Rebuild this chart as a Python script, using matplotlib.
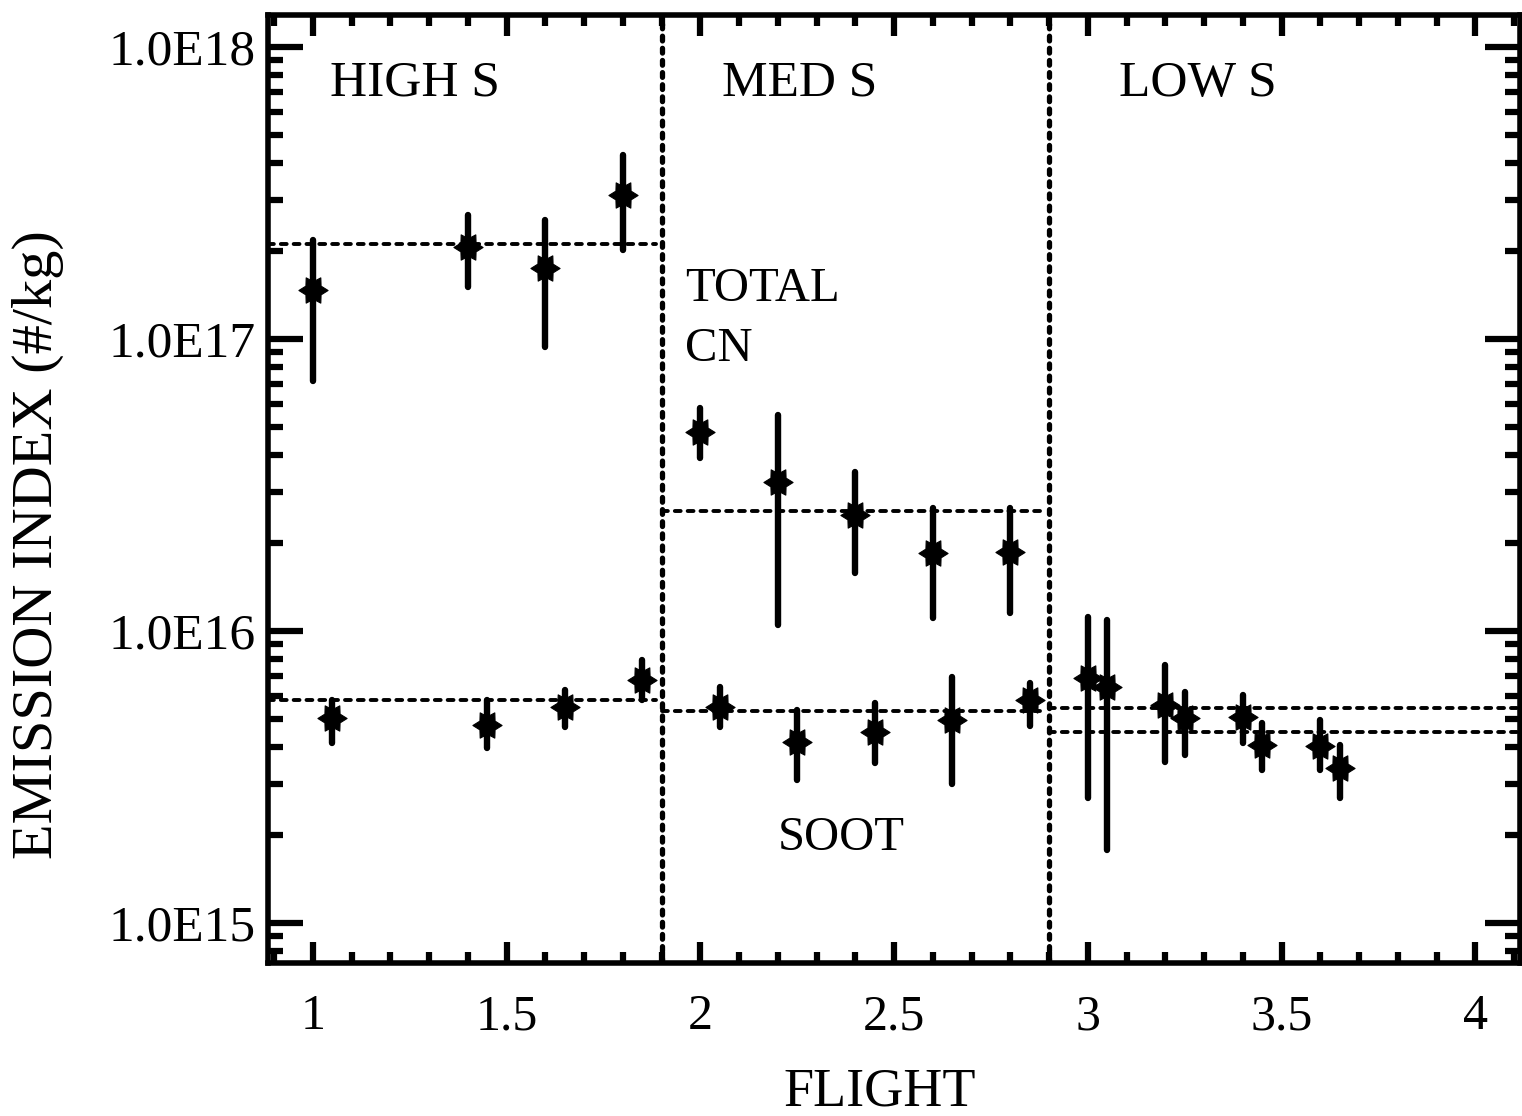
import matplotlib
matplotlib.use("Agg")
import matplotlib.pyplot as plt
from matplotlib.ticker import FixedLocator, LogLocator, NullFormatter, FuncFormatter
from matplotlib.path import Path
import numpy as np

plt.rcParams['font.family'] = ['Liberation Serif', 'DejaVu Serif']

# ---- data ----
cn_flight = [1.0, 1.4, 1.6, 1.8, 2.0, 2.2, 2.4, 2.6, 2.8, 3.0, 3.2, 3.4, 3.6]
cn_value = [1.47e17, 2.07e17, 1.75e17, 3.11e17, 4.8e16, 3.24e16, 2.49e16, 1.85e16, 1.87e16,
            6.9e15, 5.58e15, 5.08e15, 4.04e15]
cn_upper = [2.18e17, 2.66e17, 2.56e17, 4.27e17, 5.8e16, 5.5e16, 3.5e16, 2.64e16, 2.64e16,
            1.12e16, 7.66e15, 6.04e15, 4.95e15]
cn_lower = [7.2e16, 1.51e17, 9.4e16, 2.02e17, 3.9e16, 1.05e16, 1.58e16, 1.11e16, 1.15e16,
            2.68e15, 3.56e15, 4.13e15, 3.34e15]

soot_flight = [1.05, 1.45, 1.65, 1.85, 2.05, 2.25, 2.45, 2.65, 2.85, 3.05, 3.25, 3.45, 3.65]
soot_value = [5.04e15, 4.76e15, 5.49e15, 6.79e15, 5.50e15, 4.17e15, 4.51e15, 4.95e15, 5.80e15,
              6.43e15, 5.04e15, 4.07e15, 3.40e15]
soot_upper = [5.8e15, 5.8e15, 6.28e15, 7.96e15, 6.43e15, 5.36e15, 5.66e15, 6.95e15, 6.63e15,
              1.09e16, 6.18e15, 4.85e15, 4.07e15]
soot_lower = [4.13e15, 3.97e15, 4.69e15, 5.8e15, 4.69e15, 3.09e15, 3.53e15, 2.99e15, 4.73e15,
              1.78e15, 3.76e15, 3.34e15, 2.68e15]

group_names = ["HIGH S", "MED S", "LOW S"]
group_label_x = [1.044, 2.055, 3.081]
group_start = [0.884, 1.9, 2.9]
group_end = [1.885, 2.893, 4.12]
cn_mean = [2.11e17, 2.58e16, 5.44e15]
soot_mean = [5.8e15, 5.32e15, 4.51e15]
dividers = [1.9, 2.9]

x_ticks = [1, 1.5, 2, 2.5, 3, 3.5, 4]
y_ticks = [1e15, 1e16, 1e17, 1e18]

# ---- hexagram marker with points left/right ----
ang = np.deg2rad(np.arange(0, 360, 30))
rad = np.where(np.arange(12) % 2 == 0, 1.0, 0.6)
verts = np.column_stack([rad * np.cos(ang), rad * np.sin(ang)])
verts = np.vstack([verts, verts[:1]])
codes = [Path.MOVETO] + [Path.LINETO] * 11 + [Path.CLOSEPOLY]
star = Path(verts, codes)

# ---- figure ----
fig = plt.figure(figsize=(15.22, 11.16), dpi=100)
ax = fig.add_axes([268/1522, 1 - 963/1116, (1520 - 268)/1522, (963 - 15)/1116])
ax.set_yscale('log')
ax.set_xlim(0.884, 4.115)
ax.set_ylim(10**14.863, 10**18.11)


def draw_series(xs, vals, lo, hi):
    ax.vlines(xs, lo, hi, colors='black', linewidth=4.6, capstyle='round', zorder=3)
    ax.plot(xs, vals, linestyle='none', marker=star, markersize=21, color='black',
            markeredgewidth=0.8, zorder=4)

draw_series(cn_flight, cn_value, cn_lower, cn_upper)
draw_series(soot_flight, soot_value, soot_lower, soot_upper)

for s, e, m in zip(group_start, group_end, cn_mean):
    ax.plot([s, e], [m, m], color='black', linewidth=2.8, linestyle=(0, (1.5, 1.8)),
            dash_capstyle='round', zorder=2)
for s, e, m in zip(group_start, group_end, soot_mean):
    ax.plot([s, e], [m, m], color='black', linewidth=2.8, linestyle=(0, (1.5, 1.8)),
            dash_capstyle='round', zorder=2)

for d in dividers:
    ax.axvline(d, color='black', linewidth=3.8, linestyle=(0, (0.9, 1.4)),
               dash_capstyle='round', zorder=2)

# text labels
name_y = 10**17.875
for nm, gx in zip(group_names, group_label_x):
    ax.text(gx, name_y, nm, fontsize=37, va='center', ha='left')
ax.text(1.96, 10**17.17, "TOTAL", fontsize=35, va='center', ha='left')
ax.text(1.96, 10**16.965, "CN", fontsize=35, va='center', ha='left')
ax.text(2.2, 10**15.29, "SOOT", fontsize=35, va='center', ha='left')

# axes styling
for sp in ax.spines.values():
    sp.set_linewidth(4)
ax.xaxis.set_major_locator(FixedLocator(x_ticks))
ax.xaxis.set_minor_locator(FixedLocator(np.arange(0.9, 4.15, 0.1)))
ax.yaxis.set_major_locator(FixedLocator(y_ticks))
ax.yaxis.set_minor_locator(LogLocator(base=10, subs=np.arange(2, 10)))
ax.yaxis.set_minor_formatter(NullFormatter())
ax.xaxis.set_major_formatter(FuncFormatter(lambda v, p: f"{v:g}"))
ax.yaxis.set_major_formatter(FuncFormatter(lambda v, p: "1.0E%d" % int(round(np.log10(v)))))

ax.tick_params(axis='x', which='major', direction='in', length=15, width=4.5,
               top=True, bottom=True, labelsize=36, pad=22)
ax.tick_params(axis='x', which='minor', direction='in', length=8, width=4.5,
               top=True, bottom=True)
ax.tick_params(axis='y', which='major', direction='in', length=25, width=4.5,
               left=True, right=True, labelsize=37, pad=9)
ax.tick_params(axis='y', which='minor', direction='in', length=11, width=4.5,
               left=True, right=True)

ax.set_xlabel("FLIGHT", fontsize=39)
ax.xaxis.set_label_coords((880 - 268) / 1252, -(1106 - 963) / 948)
ax.xaxis.label.set_verticalalignment('baseline')
ax.set_ylabel("EMISSION INDEX (#/kg)", fontsize=42)
ax.yaxis.set_label_coords(-(268 - 64) / 1252, (963 - 545) / 948)

fig.savefig("out.png", dpi=100)
